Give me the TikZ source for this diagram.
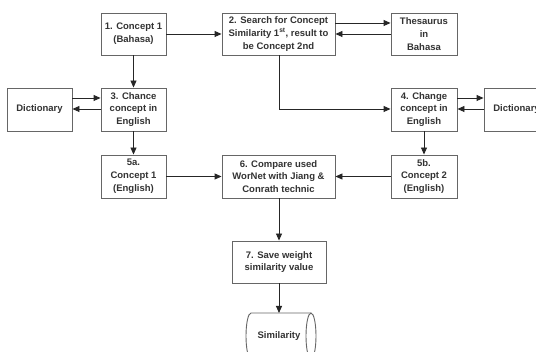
\documentclass[tikz,border=0pt]{standalone}
\usepackage{fontspec}
\setmainfont{Liberation Sans}
\usetikzlibrary{arrows.meta}
\begin{document}
\begin{tikzpicture}[x=1pt,y=1pt,
  box/.style={draw=black!60,line width=0.9pt,fill=white,rectangle,align=center,
    font=\bfseries\fontsize{9.5}{12.8}\selectfont,text=black!80,inner sep=1pt},
  conn/.style={draw=black!85,line width=0.9pt,-{Triangle[length=7pt,width=6pt]}}]
\useasboundingbox (0,0) rectangle (536,-352);
\clip (0,0) rectangle (536,-352);
\fill[white] (0,0) rectangle (536,-352);
\node[box,minimum width=65pt,minimum height=42pt] (b1) at (133.5,-34) {1. Concept 1\\(Bahasa)};
\node[box,minimum width=113pt,minimum height=42pt] (b2) at (278.5,-34) {2. Search for Concept\\Similarity 1\textsuperscript{st}, result to\\be Concept 2nd};
\node[box,minimum width=66pt,minimum height=42pt] (th) at (424,-34) {Thesaurus\\in\\Bahasa};
\node[box,minimum width=65pt,minimum height=43pt] (b3) at (133.5,-109.5) {3. Chance\\concept in\\English};
\node[box,minimum width=65pt,minimum height=43pt] (dl) at (39.5,-109.5) {Dictionary};
\node[box,minimum width=66pt,minimum height=43pt] (b4) at (424,-109.5) {4. Change\\concept in\\English};
\node[box,minimum width=65pt,minimum height=43pt] (dr) at (516.5,-109.5) {Dictionary};
\node[box,minimum width=65pt,minimum height=43pt] (b5a) at (133.5,-176.5) {5a.\\Concept 1\\(English)};
\node[box,minimum width=113pt,minimum height=43pt] (b6) at (278.5,-176.5) {6. Compare used\\WorNet with Jiang \&\\Conrath technic};
\node[box,minimum width=66pt,minimum height=43pt] (b5b) at (424,-176.5) {5b.\\Concept 2\\(English)};
\node[box,minimum width=94pt,minimum height=42pt] (b7) at (279,-262) {7. Save weight\\similarity value};
% storage (cylinder) drawn directly
\draw[draw=black!60,line width=0.9pt,fill=white] (311,-313) -- (251,-313)
  arc[start angle=90,end angle=270,x radius=5,y radius=23] -- (311,-359);
\draw[draw=black!60,line width=0.9pt,fill=white] (311,-336) ellipse[x radius=5,y radius=23];
\node[font=\bfseries\fontsize{9.5}{12.8}\selectfont,text=black!80] (cy) at (279,-336) {Similarity};
\coordinate (cytop) at (279,-313);
\coordinate (c24) at (279,-109);
% connectors
\draw[conn] (b1.east) -- (b2.west);
\draw[conn] ([yshift=11pt]b2.east) -- ([yshift=11pt]th.west);
\draw[conn] (th.west) -- (b2.east);
\draw[conn] (b1.south) -- (b3.north);
\draw[conn] ([yshift=11.5pt]dl.east) -- ([yshift=11.5pt]b3.west);
\draw[conn] ([yshift=0.5pt]b3.west) -- ([yshift=0.5pt]dl.east);
\draw[conn] (b2.south -| c24) -- (c24) -- ([yshift=0.5pt]b4.west);
\draw[conn] ([yshift=11.5pt]b4.east) -- ([yshift=11.5pt]dr.west);
\draw[conn] ([yshift=0.5pt]dr.west) -- ([yshift=0.5pt]b4.east);
\draw[conn] (b3.south) -- (b5a.north);
\draw[conn] (b4.south) -- (b5b.north);
\draw[conn] (b5a.east) -- (b6.west);
\draw[conn] (b5b.west) -- (b6.east);
\draw[conn] (b6.south -| c24) -- (b7.north -| c24);
\draw[conn] (b7.south -| c24) -- (cytop);
\end{tikzpicture}
\end{document}
